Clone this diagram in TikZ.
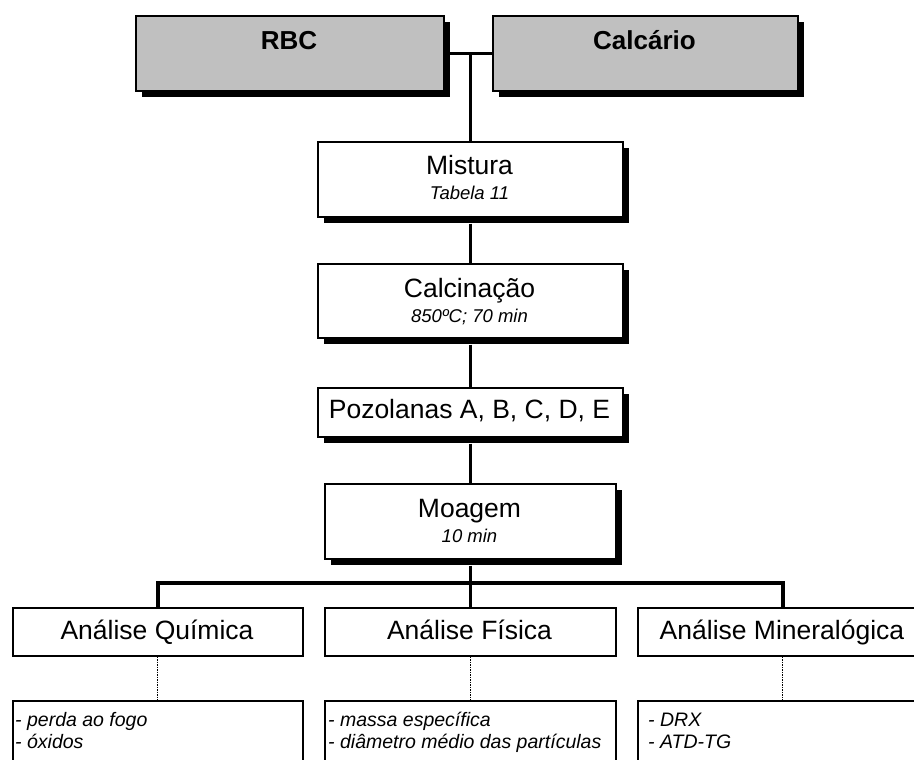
\documentclass[tikz,border=0pt]{standalone}
\usepackage{fontspec}
\setmainfont{Liberation Sans}
\usetikzlibrary{shadows,calc}
\definecolor{boxgray}{HTML}{C0C0C0}
\begin{document}
\begin{tikzpicture}[x=1pt,y=-1pt,
  box/.style={draw,line width=1.7pt,rectangle,inner sep=0pt,anchor=north west,fill=white},
  sbox/.style={box,drop shadow={shadow xshift=6pt,shadow yshift=-6pt,fill=black,opacity=1}},
  gbox/.style={sbox,fill=boxgray,line width=2.2pt},
  conn/.style={line width=3.4pt},
  dots/.style={line width=1.1pt,dash pattern=on 1.5pt off 1pt},
  ttl/.style={anchor=base,inner sep=0pt,font=\fontsize{26.5}{30}\selectfont},
  btl/.style={anchor=base,inner sep=0pt,font=\fontsize{26}{30}\selectfont\bfseries},
  sub/.style={anchor=base,inner sep=0pt,font=\fontsize{18.5}{22}\selectfont\itshape},
  lst/.style={anchor=base west,inner sep=0pt,font=\fontsize{19.5}{22}\selectfont\itshape}]
\clip (0,0) rectangle (914,760);
\useasboundingbox (0,0) rectangle (914,760);
% boxes
\node[gbox,minimum width=308pt,minimum height=75pt] (rbc) at (135,15) {};
\node[gbox,minimum width=305pt,minimum height=75pt] (cal) at (492,15) {};
\node[sbox,minimum width=305pt,minimum height=75pt] (mis) at (317,141) {};
\node[sbox,minimum width=305pt,minimum height=74pt] (cin) at (317,263) {};
\node[sbox,minimum width=305pt,minimum height=49pt] (poz) at (317,387) {};
\node[sbox,minimum width=291pt,minimum height=75pt] (moa) at (324,483) {};
\node[box,minimum width=290pt,minimum height=48pt] (aq) at (12,607) {};
\node[box,minimum width=291pt,minimum height=48pt] (af) at (324,607) {};
\node[box,minimum width=290pt,minimum height=48pt] (am) at (637,607) {};
\node[box,minimum width=290pt,minimum height=100pt] (lq) at (12,700) {};
\node[box,minimum width=291pt,minimum height=100pt] (lf) at (324,700) {};
\node[box,minimum width=290pt,minimum height=100pt] (lm) at (637,700) {};
% texts
\node[btl] (trbc) at (289,50) {RBC};
\node[btl] (tcal) at (644.5,50) {Calcário};
\node[ttl] (tmis) at (469.5,174) {Mistura};
\node[sub] (smis) at (469.5,199) {Tabela 11};
\node[ttl] (tcin) at (469.5,297) {Calcinação};
\node[sub] (scin) at (469.5,322) {850ºC; 70 min};
\node[ttl] (tpoz) at (469.5,418) {Pozolanas A, B, C, D, E};
\node[ttl] (tmoa) at (469.5,517) {Moagem};
\node[sub] (smoa) at (469.5,542) {10 min};
\node[ttl] (taq) at (157,639) {Análise Química};
\node[ttl] (taf) at (469.5,639) {Análise Física};
\node[ttl] (tam) at (782,639) {Análise Mineralógica};
\node[lst] (lq1) at (15,726) {- perda ao fogo};
\node[lst] (lq2) at (15,748) {- óxidos};
\node[lst] (lf1) at (328,726) {- massa específica};
\node[lst] (lf2) at (328,748) {- diâmetro médio das partículas};
\node[lst] (lm1) at (648,726) {- DRX};
\node[lst] (lm2) at (648,748) {- ATD-TG};
% connectors
\coordinate (bus) at (0,583);
\draw[line width=2.4pt] (rbc.east) -- (cal.west);
\draw[conn] (mis.north |- rbc.east) -- (mis.north);
\draw[conn] (mis.south) ++(0,6) -- (cin.north);
\draw[conn] (cin.south) ++(0,6) -- (poz.north);
\draw[conn] (poz.south) ++(0,6) -- (moa.north);
\draw[conn] (moa.south) ++(0,6) -- (moa.south |- bus);
\draw[conn] (aq.north) -- (aq.north |- bus) -- (am.north |- bus) -- (am.north);
\draw[conn] (af.north |- bus) -- (af.north);
\draw[dots] (aq.south) -- (lq.north);
\draw[dots] (af.south) -- (lf.north);
\draw[dots] (am.south) -- (lm.north);
\end{tikzpicture}
\end{document}
